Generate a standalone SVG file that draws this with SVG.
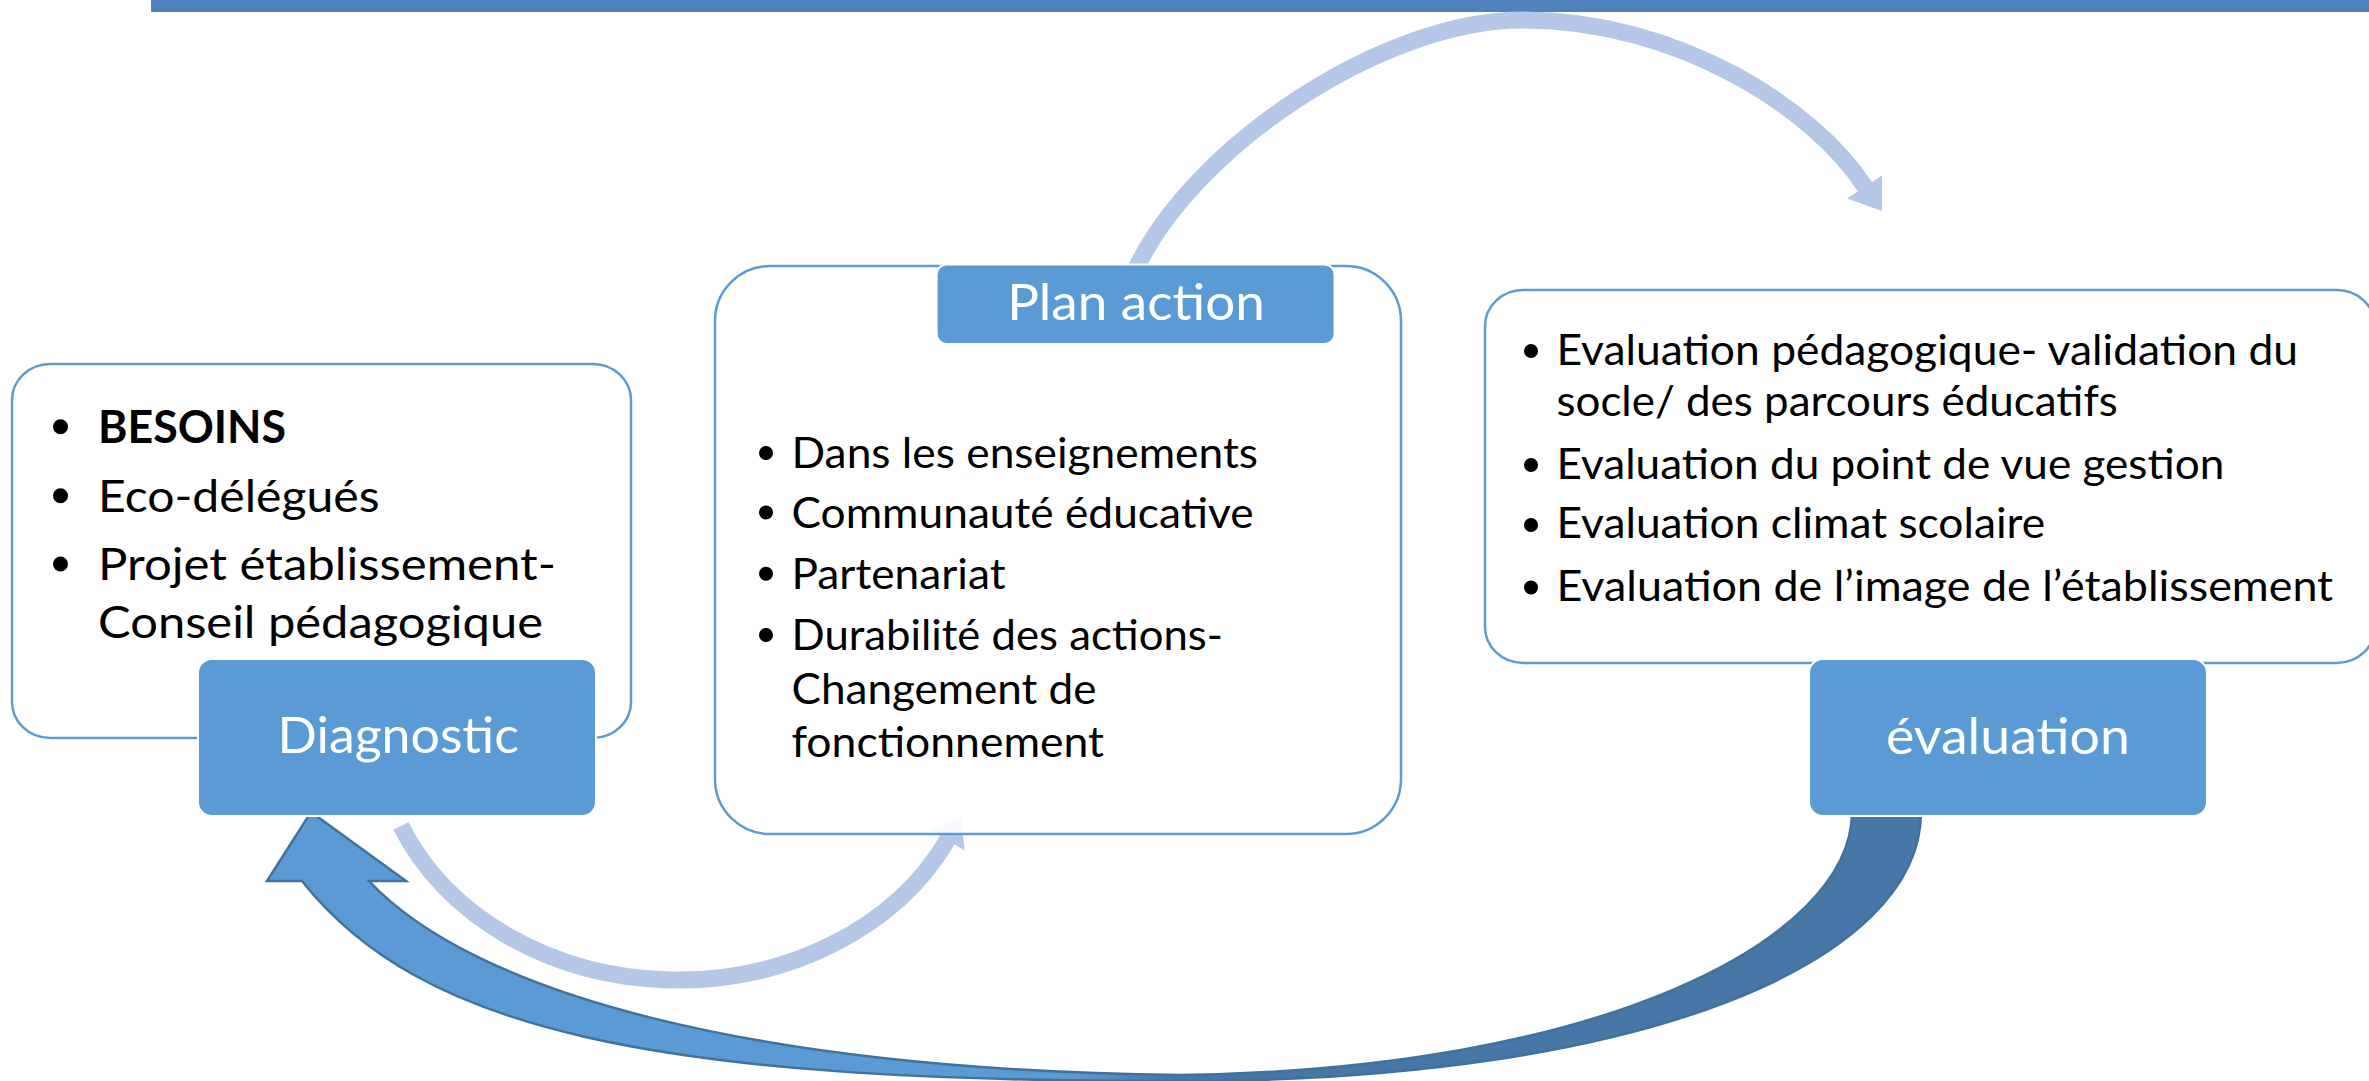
<svg xmlns="http://www.w3.org/2000/svg" width="2369" height="1081" viewBox="0 0 2369 1081">
<defs>
<style>
.box{fill:#ffffff;stroke:#5b9bd5;stroke-width:2.5}
.hdr{fill:#5b9bd5;stroke:#ffffff;stroke-width:2}
.hdrt{font-family:Lato,"Open Sans","Liberation Sans",sans-serif;font-size:50px;fill:#ffffff;text-anchor:middle}
.t{font-family:Lato,"Open Sans","Liberation Sans",sans-serif;fill:#000000}
.tl{font-size:45px}
.tb{font-size:43px}
.blt{fill:#000000}
.arc{fill:none;stroke:#b4c7e7;stroke-width:17;stroke-linecap:butt}
.arh{fill:#b4c7e7}
</style>
<linearGradient id="darkg" gradientUnits="userSpaceOnUse" x1="1070" y1="0" x2="1170" y2="0">
<stop offset="0" stop-color="#5b9bd5"/>
<stop offset="1" stop-color="#4677a6"/>
</linearGradient>
</defs>
<rect id="topbar" x="151" y="0" width="2218" height="12" fill="#4f81bd"/>
<g id="connectors">
<path class="arc" d="M1135,271 C1190,150 1380,20 1523,20 C1680,20 1816,110.5 1865,187"/>
<polygon class="arh" points="1847,198.5 1882,175.5 1882,211"/>
<path class="arc" d="M401,826 A300,250 0 0 0 947.4,840"/>
<polygon class="arh" points="929.3,829.6 964.7,850.4 960.7,816.5"/>
<path d="M1921,805 L1921,812 C1921,960 1650,1081 1180,1081 C650,1082 420,1030 302,881 L267,881 L311,812 L406,881 L369,881 C474,993 750,1070 1180,1075 C1600,1070 1852,940 1852,812 L1852,805 Z" fill="url(#darkg)" stroke="#41719c" stroke-width="2.5" stroke-linejoin="miter"/>
</g>
<g id="node-diagnostic">
<rect class="box" x="12" y="364" width="619" height="374" rx="38" ry="36"/>
<circle class="blt" cx="60.5" cy="426.7" r="7.5"/>
<text class="t tl" x="98" y="442.7" font-weight="bold" textLength="188" lengthAdjust="spacingAndGlyphs">BESOINS</text>
<circle class="blt" cx="60.5" cy="495.7" r="7.5"/>
<text class="t tl" x="98" y="511.7" textLength="281.6" lengthAdjust="spacingAndGlyphs">Eco-délégués</text>
<circle class="blt" cx="60.5" cy="564" r="7.5"/>
<text class="t tl" x="98" y="580" textLength="458" lengthAdjust="spacingAndGlyphs">Projet établissement-</text>
<text class="t tl" x="98" y="637.7" textLength="445" lengthAdjust="spacingAndGlyphs">Conseil pédagogique</text>
<rect class="hdr" x="198" y="659" width="398" height="157" rx="14"/>
<text class="hdrt" x="398.3" y="753.3" textLength="241.5" lengthAdjust="spacingAndGlyphs">Diagnostic</text>
</g>
<g id="node-plan">
<rect class="box" x="715" y="266" width="686" height="568" rx="55" fill-opacity="0.9" style="fill-opacity:0.9"/>
<circle class="blt" cx="766" cy="453" r="7"/>
<text class="t tb" x="791.5" y="468" textLength="466.5" lengthAdjust="spacingAndGlyphs">Dans les enseignements</text>
<circle class="blt" cx="766" cy="512.5" r="7"/>
<text class="t tb" x="791.5" y="527.5" textLength="462" lengthAdjust="spacingAndGlyphs">Communauté éducative</text>
<circle class="blt" cx="766" cy="573.7" r="7"/>
<text class="t tb" x="791.5" y="588.7" textLength="214" lengthAdjust="spacingAndGlyphs">Partenariat</text>
<circle class="blt" cx="766" cy="635" r="7"/>
<text class="t tb" x="791.5" y="650" textLength="431.5" lengthAdjust="spacingAndGlyphs">Durabilité des actions-</text>
<text class="t tb" x="791.5" y="703.5" textLength="305" lengthAdjust="spacingAndGlyphs">Changement de</text>
<text class="t tb" x="791.5" y="757" textLength="312.5" lengthAdjust="spacingAndGlyphs">fonctionnement</text>
<rect class="hdr" x="936.6" y="264.5" width="398" height="79.5" rx="10"/>
<text class="hdrt" x="1136" y="320" textLength="257.7" lengthAdjust="spacingAndGlyphs">Plan action</text>
</g>
<g id="node-evaluation">
<rect class="box" x="1485" y="290" width="890" height="373" rx="38" ry="36"/>
<circle class="blt" cx="1531" cy="351" r="7"/>
<text class="t tb" x="1556.5" y="364.5" textLength="741.5" lengthAdjust="spacingAndGlyphs">Evaluation pédagogique- validation du</text>
<text class="t tb" x="1556.5" y="416" textLength="561.3" lengthAdjust="spacingAndGlyphs">socle/ des parcours éducatifs</text>
<circle class="blt" cx="1531" cy="465" r="7"/>
<text class="t tb" x="1556.5" y="478.7" textLength="667.8" lengthAdjust="spacingAndGlyphs">Evaluation du point de vue gestion</text>
<circle class="blt" cx="1531" cy="525" r="7"/>
<text class="t tb" x="1556.5" y="538.3" textLength="488.7" lengthAdjust="spacingAndGlyphs">Evaluation climat scolaire</text>
<circle class="blt" cx="1531" cy="587.5" r="7"/>
<text class="t tb" x="1556.5" y="601" textLength="776.7" lengthAdjust="spacingAndGlyphs">Evaluation de l’image de l’établissement</text>
<rect class="hdr" x="1809" y="659" width="398" height="157" rx="14"/>
<text class="hdrt" x="2008" y="753.5" textLength="244" lengthAdjust="spacingAndGlyphs">évaluation</text>
</g>
</svg>
